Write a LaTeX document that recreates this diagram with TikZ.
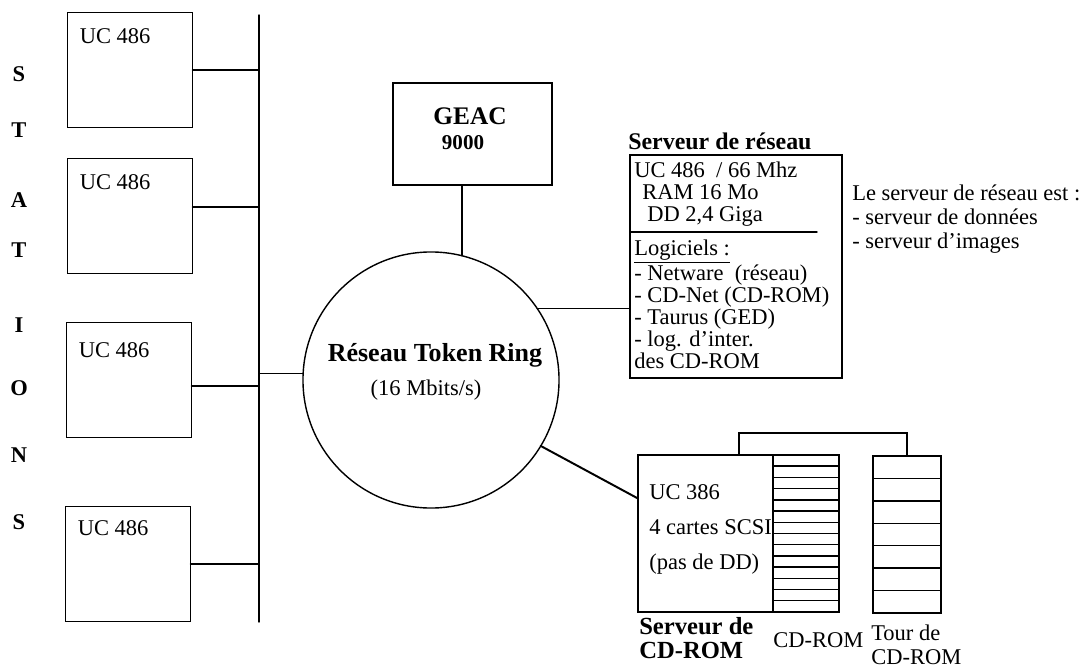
\documentclass[tikz,border=0pt]{standalone}
\usepackage{fontspec}
\setmainfont{Liberation Serif}
\usetikzlibrary{calc}

\tikzset{
  box/.style={draw, line width=1pt, inner sep=0pt, outer sep=0pt},
  station/.style={box, minimum width=3.125cm, minimum height=2.875cm},
  wire/.style={line width=1pt},
  lbl/.style={inner sep=0pt, font=\fontsize{16}{18}\selectfont},
  block/.style={inner sep=0pt, align=left, font=\fontsize{16}{15.6}\selectfont},
  letter/.style={inner sep=0pt, font=\bfseries\fontsize{16}{18}\selectfont},
  cdtitle/.style={inner sep=0pt, anchor=base west, font=\bfseries\fontsize{17.5}{18}\selectfont},
}

\begin{document}
\begin{tikzpicture}[x=0.025cm, y=-0.025cm, line cap=round]

    \useasboundingbox (0,0) rectangle (1080,670);

    % stations
    \foreach \l/\y [count=\k] in {S/74, T/130, A/200, T/250, I/325, O/388, N/455, S/522}
        \node[letter] (ltr\k) at (19,\y) {\l};

    \node[station] (pc1) at (130,70) {};
    \node[station] (pc2) at (130,216) {};
    \node[station] (pc3) at (129,380) {};
    \node[station] (pc4) at (128,564) {};
    \node[lbl, anchor=west] (uc1) at ($(pc1.north west)+(12,24)$) {UC 486};
    \node[lbl, anchor=west] (uc2) at ($(pc2.north west)+(12,24)$) {UC 486};
    \node[lbl, anchor=west] (uc3) at ($(pc3.north west)+(12,28)$) {UC 486};
    \node[lbl, anchor=west] (uc4) at ($(pc4.north west)+(12,22)$) {UC 486};

    \coordinate (bustop) at (259,15);
    \coordinate (busbot) at (259,622);
    \draw[wire] (bustop) -- (busbot);
    \draw[wire] (pc1.east) -- (pc1.east -| bustop);
    \draw[wire] ([yshift=0.225cm]pc2.east) -- ([yshift=0.225cm]pc2.east -| bustop);
    \draw[wire] ([yshift=-0.15cm]pc3.east) -- ([yshift=-0.15cm]pc3.east -| bustop);
    \draw[wire] (pc4.east) -- (pc4.east -| bustop);

    % token ring
    \node[circle, draw, line width=1pt, minimum size=6.4cm, inner sep=0pt, outer sep=0pt] (ring) at (431,380) {};
    \node[inner sep=0pt, font=\bfseries\fontsize{18.5}{20}\selectfont] (ringname) at (435,355) {Réseau Token Ring};
    \node[lbl] (ringrate) at (426,390) {(16 Mbits/s)};
    \draw[wire] (ring.177) -- (ring.177 -| bustop);

    % GEAC
    \node[box, minimum width=3.975cm, minimum height=2.55cm] (geac) at (472.5,134) {};
    \node[inner sep=0pt, font=\bfseries\fontsize{18}{20}\selectfont] (geacname) at (470,116) {GEAC};
    \node[inner sep=0pt, font=\bfseries\fontsize{15}{16}\selectfont] (geacnum) at (463,143) {9000};
    \draw[wire] (ring.76) -- (ring.76 |- geac.south);

    % serveur de reseau
    \node[box, minimum width=5.3cm, minimum height=5.575cm] (srv) at (736,266.5) {};
    \node[inner sep=0pt, anchor=south west, font=\bfseries\fontsize{17}{18}\selectfont] (srvtitle) at (628,150) {Serveur de\ réseau};
    \coordinate (divl) at (630,232);
    \coordinate (divr) at (817,232);
    \draw[wire] (divl) -- (divr);
    \node[block, anchor=north west] (hw) at (634,162) {UC 486\ \ / 66 Mhz\\\hspace{0.2cm}RAM 16 Mo\\\hspace{0.325cm}DD 2,4 Giga};
    \node[block, anchor=north west] (soft) at (634,240) {\underline{Logiciels :}\\- Netware\ \ (réseau)\\- CD-Net (CD-ROM)\\- Taurus (GED)\\- log. d'inter.\\des CD-ROM};
    \draw[wire] (ring.34) -- (ring.34 -| srv.west);

    \node[block, anchor=north west, font=\fontsize{16}{17}\selectfont] (note) at (852,185) {Le serveur de réseau est :\\- serveur de données\\- serveur d'images};

    % serveur de CD-ROM
    \node[box, minimum width=3.375cm, minimum height=3.925cm] (cdsrv) at (705.5,533.5) {};
    \node[box, minimum width=1.65cm, minimum height=3.925cm, anchor=west] (stack) at (cdsrv.east) {};
    \node[box, minimum width=1.7cm, minimum height=3.925cm] (tower) at (907,534.5) {};
    \foreach \i in {1,...,13}
        \draw[wire] ($(stack.north west)+(0,\i*11.21)$) -- ++(66,0);
    \foreach \i in {1,...,6}
        \draw[wire] ($(tower.north west)+(0,\i*22.43)$) -- ++(68,0);

    \coordinate (cdtap) at (739,455);
    \draw[wire] (cdtap) -- ++(0,-22) -| (tower.north);
    \draw[line width=1.4pt] (ring.-31) -- ([yshift=0.875cm]cdsrv.west);

    \node[block, anchor=north west, font=\fontsize{16}{24.9}\selectfont] (cdhw) at (649,484) {UC 386\\4 cartes SCSI\\(pas de DD)};
    \node[cdtitle] (cdtitle1) at (639,634) {Serveur de};
    \node[cdtitle] (cdtitle2) at (639,658) {CD-ROM};
    \node[lbl, anchor=north west] (cdlbl) at (773,632) {CD-ROM};
    \node[block, anchor=north west, font=\fontsize{16}{17}\selectfont] (towerlbl) at (871,625) {Tour de\\CD-ROM};

\end{tikzpicture}
\end{document}
